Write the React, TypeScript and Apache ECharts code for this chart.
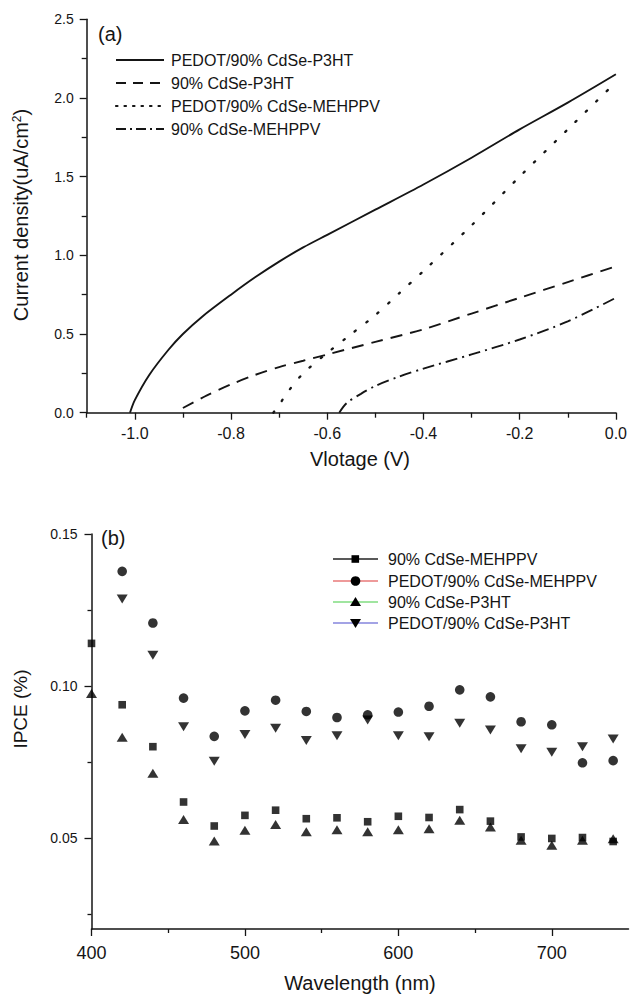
import React, { useEffect, useRef } from "react";
import * as echarts from "echarts";

const FONT = '"Liberation Sans", Arial, Helvetica, sans-serif';
const INK = "#151515";

// ---------- Panel (a): J-V curves ----------
const pedotP3htV = [-1.01, -1.0, -0.97, -0.93, -0.9, -0.86, -0.8, -0.75, -0.7, -0.65, -0.6, -0.5, -0.4, -0.3, -0.2, -0.1, 0.0];
const pedotP3htJ = [0.0, 0.08, 0.24, 0.4, 0.5, 0.61, 0.75, 0.86, 0.96, 1.05, 1.13, 1.29, 1.45, 1.62, 1.8, 1.97, 2.15];

const cdseP3htV = [-0.9, -0.85, -0.8, -0.75, -0.7, -0.65, -0.6, -0.5, -0.4, -0.3, -0.2, -0.1, 0.0];
const cdseP3htJ = [0.03, 0.11, 0.18, 0.24, 0.29, 0.33, 0.37, 0.45, 0.53, 0.63, 0.73, 0.83, 0.93];

const pedotMehppvV = [-0.712, -0.7, -0.68, -0.65, -0.6, -0.55, -0.5, -0.45, -0.4, -0.3, -0.2, -0.1, 0.0];
const pedotMehppvJ = [0.0, 0.05, 0.14, 0.25, 0.38, 0.5, 0.62, 0.76, 0.9, 1.19, 1.5, 1.8, 2.1];

const cdseMehppvV = [-0.575, -0.56, -0.53, -0.5, -0.45, -0.4, -0.3, -0.2, -0.1, 0.0];
const cdseMehppvJ = [0.0, 0.06, 0.12, 0.17, 0.23, 0.28, 0.37, 0.465, 0.58, 0.73];

const voltMajorTicks = [-1.0, -0.8, -0.6, -0.4, -0.2, 0.0];
const voltMinorTicks = [-1.1, -0.9, -0.7, -0.5, -0.3, -0.1];
const currentMajorTicks = [0.0, 0.5, 1.0, 1.5, 2.0, 2.5];
const currentMinorTicks = [0.25, 0.75, 1.25, 1.75, 2.25];

const legendA = ["PEDOT/90% CdSe-P3HT", "90% CdSe-P3HT", "PEDOT/90% CdSe-MEHPPV", "90% CdSe-MEHPPV"];

// ---------- Panel (b): IPCE ----------
const wavelengths = [400, 420, 440, 460, 480, 500, 520, 540, 560, 580, 600, 620, 640, 660, 680, 700, 720, 740];
const ipceCdseMehppv = [0.114, 0.0938, 0.08, 0.0618, 0.0539, 0.0574, 0.0591, 0.0563, 0.0566, 0.0553, 0.0571, 0.0567, 0.0593, 0.0555, 0.0503, 0.0498, 0.0501, 0.0488];
const ipcePedotMehppv = [null, 0.1377, 0.1207, 0.096, 0.0834, 0.0918, 0.0953, 0.0916, 0.0896, 0.0905, 0.0914, 0.0933, 0.0987, 0.0964, 0.0882, 0.0872, 0.0747, 0.0754];
const ipceCdseP3ht = [0.0975, 0.0831, 0.0713, 0.056, 0.049, 0.0525, 0.0544, 0.052, 0.0527, 0.052, 0.0527, 0.053, 0.0558, 0.0536, 0.0492, 0.0476, 0.0492, 0.0497];
const ipcePedotP3ht = [null, 0.1286, 0.1101, 0.0866, 0.0752, 0.084, 0.0861, 0.082, 0.0836, 0.0888, 0.0836, 0.0833, 0.0877, 0.0855, 0.0793, 0.0782, 0.08, 0.0825];

const waveMajorTicks = [400, 500, 600, 700];
const waveMinorTicks = [450, 550, 650];
const ipceMajorTicks = [0.05, 0.1, 0.15];
const ipceMinorTicks = [0.025, 0.075, 0.125];

const legendB = ["90% CdSe-MEHPPV", "PEDOT/90% CdSe-MEHPPV", "90% CdSe-P3HT", "PEDOT/90% CdSe-P3HT"];
const legendBColors = ["#222222", "#e87878", "#80dc80", "#8484dc"];

const GRID_A = { left: 86.7, top: 19.2, width: 531.6, height: 393.5 };
const GRID_B = { left: 91.5, top: 534, width: 537, height: 395 };

const zip = (xs: number[], ys: (number | null)[]) => xs.map((x, i) => [x, ys[i]]).filter((p) => p[1] !== null);

function mainAxis(grid: number, pos: string, min: number, max: number, ticks: number[], len: number, fontSize: number, margin: number, digits: number) {
  return {
    gridIndex: grid, type: "value", position: pos, min, max,
    axisLine: { show: true, onZero: false, lineStyle: { color: INK, width: 1.5 } },
    axisTick: { show: true, inside: false, length: len, customValues: ticks, lineStyle: { color: INK, width: 1.3 } },
    axisLabel: { show: true, customValues: ticks, formatter: (v: number) => v.toFixed(digits), fontSize, fontFamily: FONT, color: INK, margin },
    splitLine: { show: false },
  };
}
function minorAxis(grid: number, pos: string, min: number, max: number, ticks: number[], len: number) {
  return {
    gridIndex: grid, type: "value", position: pos, min, max,
    axisLine: { show: false, onZero: false },
    axisTick: { show: true, inside: false, length: len, customValues: ticks, lineStyle: { color: INK, width: 1.3 } },
    axisLabel: { show: false },
    splitLine: { show: false },
  };
}

function txt(text: string, x: number, y: number, fontSize: number, align = "left", rotation = 0, rich?: any) {
  const style: any = { text, fontSize, fontFamily: FONT, fill: INK, align, verticalAlign: "middle" };
  if (rich) style.rich = rich;
  return { type: "text", x, y, rotation, silent: true, style };
}

function buildGraphic() {
  const g: any[] = [];
  g.push(txt("(a)", 98, 34, 20));
  g.push(txt("(b)", 101, 538, 20));
  g.push(txt("Current density(uA/cm{sup|2})", 21, 215, 20, "center", Math.PI / 2, { sup: { fontSize: 12, fontFamily: FONT, fill: INK, verticalAlign: "top" } }));
  g.push(txt("Vlotage (V)", 360, 459, 20, "center"));
  g.push(txt("IPCE (%)", 20, 709, 19, "center", Math.PI / 2));
  g.push(txt("Wavelength (nm)", 360, 983, 20, "center"));
  const legendDashA: any[] = [null, [10, 7], [1.5, 7], [10, 4, 2, 4]];
  const rowsA = [60, 83, 106, 129];
  legendA.forEach((name, i) => {
    const y = rowsA[i];
    const st: any = { stroke: INK, lineWidth: i === 2 ? 2.2 : 1.8 };
    if (legendDashA[i]) st.lineDash = legendDashA[i];
    if (i === 2) st.lineCap = "round";
    g.push({ type: "line", silent: true, shape: { x1: 116, y1: y, x2: 164, y2: y }, style: st });
    g.push(txt(name, 171, y, 16));
  });
  const rowsB = [559, 581, 602, 623];
  legendB.forEach((name, i) => {
    const y = rowsB[i];
    g.push({ type: "line", silent: true, shape: { x1: 333, y1: y, x2: 378, y2: y }, style: { stroke: legendBColors[i], lineWidth: 1.3 } });
    let m: any;
    if (i === 0) m = { type: "rect", shape: { x: 351.5, y: y - 3.8, width: 7.6, height: 7.6 } };
    else if (i === 1) m = { type: "circle", shape: { cx: 355.5, cy: y, r: 4.8 } };
    else if (i === 2) m = { type: "polygon", shape: { points: [[350, y + 4], [361, y + 4], [355.5, y - 5]] } };
    else m = { type: "polygon", shape: { points: [[350, y - 4], [361, y - 4], [355.5, y + 5]] } };
    m.silent = true;
    m.style = { fill: "#000" };
    g.push(m);
    g.push(txt(name, 388, y, 16));
  });
  return g;
}

function buildSeries() {
  const dashA: any[] = ["solid", [12, 8], [1.5, 13], [12, 5, 2, 5]];
  const lines = [
    [pedotP3htV, pedotP3htJ],
    [cdseP3htV, cdseP3htJ],
    [pedotMehppvV, pedotMehppvJ],
    [cdseMehppvV, cdseMehppvJ],
  ].map(([xs, ys], i) => ({
    name: legendA[i], type: "line", xAxisIndex: 0, yAxisIndex: 0,
    data: zip(xs as number[], ys as number[]),
    showSymbol: false, symbol: "none", smooth: 0.3, clip: false,
    lineStyle: { color: INK, width: i === 2 ? 2.3 : 1.9, type: dashA[i], cap: i === 2 ? "round" : "butt" },
  }));
  const defs = [
    { data: ipceCdseMehppv, symbol: "rect", size: 7.6, rotate: 0 },
    { data: ipcePedotMehppv, symbol: "circle", size: 9.6, rotate: 0 },
    { data: ipceCdseP3ht, symbol: "triangle", size: [11, 9], rotate: 0 },
    { data: ipcePedotP3ht, symbol: "triangle", size: [11, 9], rotate: 180 },
  ];
  const scat = defs.map((d, i) => ({
    name: legendB[i], type: "scatter", xAxisIndex: 2, yAxisIndex: 2, clip: false,
    data: zip(wavelengths, d.data), symbol: d.symbol, symbolSize: d.size, symbolRotate: d.rotate,
    itemStyle: { color: "#000" },
  }));
  return [...lines, ...scat];
}

export default function App() {
  const ref = useRef<HTMLDivElement>(null);

  useEffect(() => {
    if (!ref.current) return;
    const chart = echarts.init(ref.current, null, { renderer: "svg" });
    chart.setOption({
      animation: false,
      grid: [GRID_A, GRID_B],
      xAxis: [
        mainAxis(0, "bottom", -1.1, 0, voltMajorTicks, 7, 16, 13, 1),
        minorAxis(0, "bottom", -1.1, 0, voltMinorTicks, 5),
        mainAxis(1, "bottom", 400, 750, waveMajorTicks, 7, 18, 15, 0),
        minorAxis(1, "bottom", 400, 750, waveMinorTicks, 4),
      ],
      yAxis: [
        mainAxis(0, "left", 0, 2.5, currentMajorTicks, 7, 14, 13, 1),
        minorAxis(0, "left", 0, 2.5, currentMinorTicks, 5),
        mainAxis(1, "left", 0.02, 0.15, ipceMajorTicks, 7, 14, 14, 2),
        minorAxis(1, "left", 0.02, 0.15, ipceMinorTicks, 4),
      ],
      series: buildSeries(),
      graphic: buildGraphic(),
    } as any);
    return () => chart.dispose();
  }, []);

  return <div ref={ref} style={{ position: "fixed", left: 0, top: 0, width: 630, height: 994, background: "#fff" }} />;
}
